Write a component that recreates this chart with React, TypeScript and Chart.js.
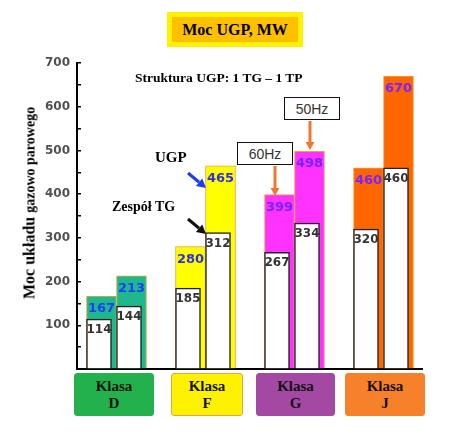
import React, { useEffect, useRef } from 'react';
import { Chart, registerables, CategoryScale } from 'chart.js';

Chart.register(...registerables);

// Category scale whose pixel range can be widened / shifted a little (layout only)
class PaddedCategoryScale extends CategoryScale {
  static id = 'paddedCategory';
  configure() {
    super.configure();
    const o: any = this.options;
    const s = this as any;
    const start = s.left - (o.extendStart || 0) + (o.shift || 0);
    const end = s.right + (o.extendEnd || 0) + (o.shift || 0);
    s._startPixel = start;
    s._endPixel = end;
    s._length = end - start;
  }
}
Chart.register(PaddedCategoryScale);

// ---- data ----
const categories = ['D', 'F', 'G', 'J'];
const classNames = ['Klasa D', 'Klasa F', 'Klasa G', 'Klasa J'];
const ugpFirst = [167, 280, 399, 460];
const ugpSecond = [213, 465, 498, 670];
const tgFirst = [114, 185, 267, 320];
const tgSecond = [144, 312, 334, 460];
const yMin = 0;
const yMax = 700;
const yStep = 50;
const yLabelStep = 100;

// ---- styles ----
const barColors = ['#1db98c', '#ffff00', '#ff33ff', '#ff6600'];
const ugpLabelColors = ['#1f3cff', '#3030e0', '#7a22ff', '#7a22ff'];
const tgLabelColors = ['#333333', '#333333', '#333333', '#333333'];
const classBoxColors = ['#22b14c', '#fff200', '#a349a4', '#f7812a'];
const classBoxBorders = ['#22b14c', '#f0a040', '#a349a4', '#f7812a'];

const valueLabelPlugin = {
  id: 'valueLabels',
  afterDatasetsDraw(chart: any) {
    const ctx = chart.ctx;
    ctx.save();
    chart.data.datasets.forEach((ds: any, di: number) => {
      const meta = chart.getDatasetMeta(di);
      meta.data.forEach((bar: any, i: number) => {
        const { x, y } = bar.getProps(['x', 'y'], true);
        ctx.font = ds.labelFont;
        ctx.fillStyle = ds.labelColors[i];
        ctx.textAlign = 'center';
        ctx.textBaseline = 'alphabetic';
        ctx.fillText(String(ds.data[i]), x, y + ds.labelDrop);
      });
    });
    ctx.restore();
  },
};

function Arrow(props: { x1: number; y1: number; x2: number; y2: number; color: string; w: number; head: number }) {
  const { x1, y1, x2, y2, color, w, head } = props;
  const dx = x2 - x1;
  const dy = y2 - y1;
  const len = Math.hypot(dx, dy);
  const ux = dx / len;
  const uy = dy / len;
  const bx = x2 - ux * head;
  const by = y2 - uy * head;
  const px = -uy * head * 0.55;
  const py = ux * head * 0.55;
  return (
    <g>
      <line x1={x1} y1={y1} x2={bx} y2={by} stroke={color} strokeWidth={w} />
      <polygon points={`${x2},${y2} ${bx + px},${by + py} ${bx - px},${by - py}`} fill={color} />
    </g>
  );
}

const serif = '"Liberation Serif", "Times New Roman", serif';

export default function App() {
  const canvasRef = useRef<HTMLCanvasElement | null>(null);

  useEffect(() => {
    const canvas = canvasRef.current;
    if (!canvas) return;
    const xBase = { axis: 'x', type: 'paddedCategory', offset: true, extendStart: 5, extendEnd: 6 };
    const whiteStyle = {
      backgroundColor: '#ffffff',
      borderColor: '#222222',
      borderWidth: 1.5,
      barThickness: 25,
      maxBarThickness: 25,
      grouped: false,
      order: 1,
      labelColors: tgLabelColors,
      labelFont: 'bold 12px "DejaVu Sans", sans-serif',
      labelDrop: 14,
    };
    const colorStyle = {
      backgroundColor: barColors,
      borderColor: '#f3a03a',
      borderWidth: 1,
      barThickness: 30,
      order: 2,
      labelColors: ugpLabelColors,
      labelFont: 'bold 13px "DejaVu Sans", sans-serif',
      labelDrop: 16,
    };
    const chart = new Chart(canvas, {
      type: 'bar',
      data: {
        labels: categories,
        datasets: [
          { label: 'TG 1', data: tgFirst, xAxisID: 'xw1', ...whiteStyle } as any,
          { label: 'TG 2', data: tgSecond, xAxisID: 'xw2', ...whiteStyle } as any,
          { label: 'UGP 1', data: ugpFirst, xAxisID: 'x', stack: 'u1', ...colorStyle } as any,
          { label: 'UGP 2', data: ugpSecond, xAxisID: 'x', stack: 'u2', ...colorStyle } as any,
        ],
      },
      options: {
        responsive: false,
        animation: false,
        devicePixelRatio: 1,
        layout: { padding: { left: 0, top: 63, right: 33, bottom: 65 } },
        plugins: { legend: { display: false }, tooltip: { enabled: false }, title: { display: false } },
        scales: {
          x: {
            ...xBase,
            grid: { display: false, drawTicks: false },
            ticks: { display: false },
            border: { display: true, color: '#000000', width: 2 },
            afterFit: (s: any) => {
              s.height = 0;
            },
          } as any,
          xw1: { ...xBase, display: false, shift: -17.5 } as any,
          xw2: { ...xBase, display: false, shift: 12.5 } as any,
          y: {
            type: 'linear',
            min: yMin,
            max: yMax,
            ticks: {
              stepSize: yStep,
              padding: 11,
              color: '#505050',
              font: { family: '"DejaVu Sans", sans-serif', size: 12, weight: 'bold' },
              callback: (v: any) => (v > 0 && v % yLabelStep === 0 ? String(v) : ''),
            },
            grid: { display: true, drawOnChartArea: false, drawTicks: true, tickLength: -4, color: '#000000', lineWidth: 1.5 },
            border: { display: true, color: '#000000', width: 2 },
            afterFit: (s: any) => {
              s.width = 77;
            },
          } as any,
        },
      } as any,
      plugins: [valueLabelPlugin],
    });
    return () => chart.destroy();
  }, []);

  const classBoxes = [
    { left: 74, width: 80 },
    { left: 171, width: 72 },
    { left: 256, width: 79 },
    { left: 345, width: 80 },
  ];

  return (
    <div style={{ position: 'fixed', left: 0, top: 0, width: 455, height: 434, background: '#ffffff', overflow: 'hidden' }}>
      <canvas ref={canvasRef} width={455} height={434} style={{ position: 'absolute', left: 0, top: 0, width: 455, height: 434 }} />

      {/* chart title box */}
      <div
        style={{
          position: 'absolute', left: 167, top: 12, width: 136, height: 35, boxSizing: 'border-box',
          background: '#ffc000', border: '5px solid #fff200', display: 'flex', alignItems: 'center', justifyContent: 'center',
          font: `bold 16px ${serif}`, color: '#000',
        }}
      >
        Moc UGP, MW
      </div>

      <div style={{ position: 'absolute', left: 135, top: 71, font: `bold 13.5px ${serif}`, lineHeight: '13.5px', whiteSpace: 'nowrap', color: '#000' }}>
        Struktura UGP: 1 TG – 1 TP
      </div>
      <div style={{ position: 'absolute', left: 155, top: 150, font: `bold 15px ${serif}`, lineHeight: '15px', whiteSpace: 'nowrap', color: '#000' }}>
        UGP
      </div>
      <div style={{ position: 'absolute', left: 112, top: 200, font: `bold 14px ${serif}`, lineHeight: '14px', whiteSpace: 'nowrap', color: '#000' }}>
        Zespół TG
      </div>

      {/* y axis title */}
      <div
        style={{
          position: 'absolute', left: 30, top: 203, transform: 'translate(-50%, -50%) rotate(-90deg)',
          whiteSpace: 'nowrap', fontFamily: serif, fontWeight: 'bold', color: '#000', lineHeight: '18px',
        }}
      >
        <span style={{ fontSize: 16 }}>Moc układu </span>
        <span style={{ fontSize: 14 }}>gazowo parowego</span>
      </div>

      {/* frequency boxes */}
      <div
        style={{
          position: 'absolute', left: 237, top: 142, width: 56, height: 23, boxSizing: 'border-box', background: '#fff',
          border: '1.5px solid #111', display: 'flex', alignItems: 'center', justifyContent: 'center',
          font: '14px "Liberation Sans", Arial, sans-serif', color: '#333',
        }}
      >
        60Hz
      </div>
      <div
        style={{
          position: 'absolute', left: 284, top: 97, width: 56, height: 23, boxSizing: 'border-box', background: '#fff',
          border: '1.5px solid #111', display: 'flex', alignItems: 'center', justifyContent: 'center',
          font: '14px "Liberation Sans", Arial, sans-serif', color: '#333',
        }}
      >
        50Hz
      </div>

      <svg width={455} height={434} style={{ position: 'absolute', left: 0, top: 0, pointerEvents: 'none' }}>
        <Arrow x1={188} y1={173} x2={206} y2={188} color="#1f3cf0" w={3} head={9} />
        <Arrow x1={188} y1={219} x2={206} y2={234} color="#111111" w={3} head={9} />
        <Arrow x1={275} y1={166} x2={275} y2={196} color="#f2772e" w={3} head={8} />
        <Arrow x1={310} y1={121} x2={310} y2={150} color="#f2772e" w={3} head={8} />
      </svg>

      {/* class boxes */}
      {classNames.map((name, i) => (
        <div
          key={name}
          style={{
            position: 'absolute', left: classBoxes[i].left, top: 373, width: classBoxes[i].width, height: 43,
            boxSizing: 'border-box', background: classBoxColors[i], border: `1px solid ${classBoxBorders[i]}`,
            borderRadius: 3, textAlign: 'center', font: `bold 15px ${serif}`, lineHeight: '17px', paddingTop: 4, color: '#111',
          }}
        >
          {name.split(' ')[0]}
          <br />
          {name.split(' ')[1]}
        </div>
      ))}
    </div>
  );
}
